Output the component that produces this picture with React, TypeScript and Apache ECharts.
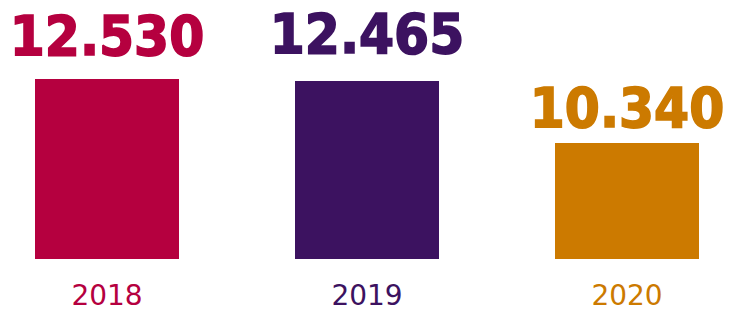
import React, { useEffect, useRef } from "react";
import * as echarts from "echarts";

const categories = ["2018", "2019", "2020"];
const values = [12530, 12465, 10340];
const colors = ["#b5003f", "#3c1260", "#cc7a00"];
const labelGaps = [16, 19, 7];

function fmt(v: number): string {
  return String(v).replace(/\B(?=(\d{3})+(?!\d))/g, ".");
}

export default function App() {
  const ref = useRef<HTMLDivElement>(null);
  useEffect(() => {
    if (!ref.current) return;
    const chart = echarts.init(ref.current, undefined, { renderer: "svg" });
    chart.setOption({
      animation: false,
      grid: {
        left: -23,
        right: -28,
        top: 79,
        bottom: 51,
        containLabel: false,
        outerBoundsMode: "none",
      },
      xAxis: {
        type: "category",
        data: categories,
        axisLine: { show: false },
        axisTick: { show: false },
        axisLabel: {
          fontFamily: "DejaVu Sans",
          fontSize: 28,
          margin: 22,
          color: (_v: any, i: number) => colors[i],
        },
      },
      yAxis: {
        type: "value",
        min: 6370,
        max: 12530,
        show: false,
        splitLine: { show: false },
      },
      series: [
        {
          type: "bar",
          barWidth: 144,
          data: values.map((v, i) => ({
            value: v,
            itemStyle: { color: colors[i] },
            label: { color: colors[i], textBorderColor: colors[i], distance: labelGaps[i] },
          })),
          label: {
            show: true,
            position: "top",
            fontFamily: "DejaVu Sans Condensed",
            fontWeight: "bold",
            fontSize: 56,
            textBorderWidth: 1.6,
            formatter: (p: any) => fmt(p.value),
          },
        },
      ],
    });
    return () => chart.dispose();
  }, []);
  return <div ref={ref} style={{ width: 729, height: 310, position: "absolute", left: 0, top: 0 }} />;
}
